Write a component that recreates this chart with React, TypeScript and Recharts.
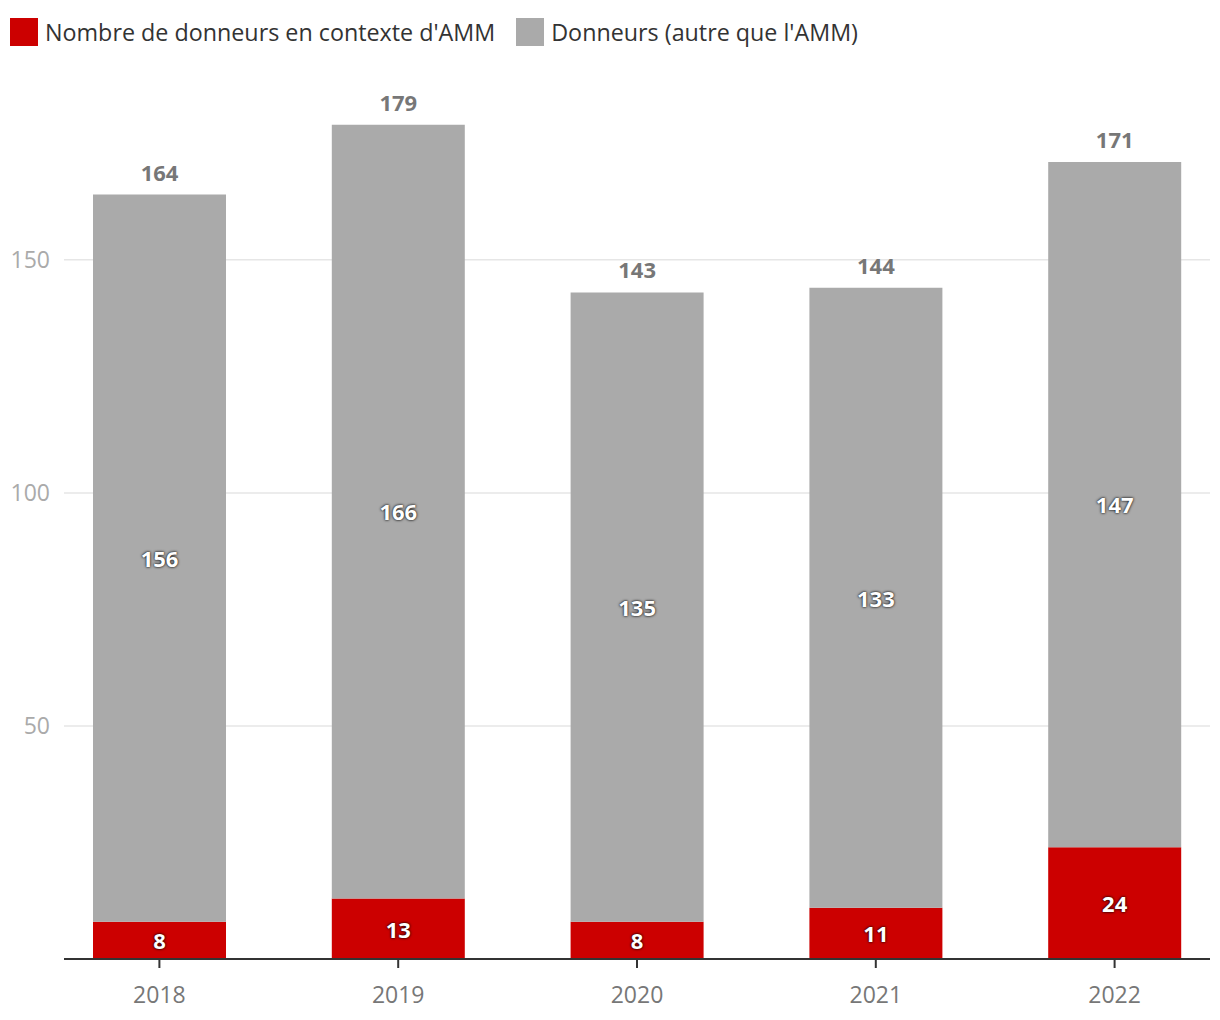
import { BarChart, Bar, XAxis, YAxis, CartesianGrid, LabelList } from "recharts";

const years = ["2018", "2019", "2020", "2021", "2022"];
const ammDonors = [8, 13, 8, 11, 24];
const otherDonors = [156, 166, 135, 133, 147];
const yTicks = [50, 100, 150];

const RED = "#cc0000";
const GREY = "#aaaaaa";
const FONT = "'Open Sans', sans-serif";

const data = years.map((year, i) => ({
  year,
  amm: ammDonors[i],
  other: otherDonors[i],
  total: ammDonors[i] + otherDonors[i],
}));

const legendItems = [
  { label: "Nombre de donneurs en contexte d'AMM", color: RED },
  { label: "Donneurs (autre que l'AMM)", color: GREY },
];

// white value inside a segment, with a soft dark halo
function renderInner(props: any) {
  const { x, y, width, height, value } = props;
  return (
    <text
      x={x + width / 2}
      y={y + height / 2 + 3}
      textAnchor="middle"
      dominantBaseline="middle"
      fill="#ffffff"
      fontSize={22}
      fontWeight={700}
      fontFamily={FONT}
      style={{ textShadow: "0 0 3px rgba(0,0,0,0.85), 0 0 2px rgba(0,0,0,0.6)" }}
    >
      {value}
    </text>
  );
}

function renderTotal(props: any) {
  const { x, y, width, index } = props;
  return (
    <text
      x={x + width / 2}
      y={y - 14}
      textAnchor="middle"
      fill="#777777"
      fontSize={22}
      fontWeight={700}
      fontFamily={FONT}
    >
      {data[index].total}
    </text>
  );
}

export default function App() {
  return (
    <div
      style={{
        position: "absolute",
        left: 0,
        top: 0,
        width: 1220,
        height: 1020,
        background: "#fff",
        fontFamily: FONT,
      }}
    >
      <div
        style={{
          position: "absolute",
          left: 10,
          top: 16,
          display: "flex",
          alignItems: "center",
          fontSize: 23.3,
          color: "#333",
        }}
      >
        {legendItems.map((it) => (
          <div
            key={it.label}
            style={{ display: "flex", alignItems: "center", marginRight: 21 }}
          >
            <span
              style={{
                display: "inline-block",
                width: 28,
                height: 28,
                background: it.color,
                marginRight: 7,
              }}
            />
            <span>{it.label}</span>
          </div>
        ))}
      </div>

      <BarChart
        width={1220}
        height={1020}
        data={data}
        margin={{ top: 120, right: 10, bottom: 0, left: 0 }}
      >
        <CartesianGrid
          vertical={false}
          stroke="#e6e6e6"
          strokeWidth={1.5}
          horizontalValues={yTicks}
        />
        <YAxis
          width={64}
          domain={[0, 180]}
          ticks={yTicks}
          axisLine={false}
          tickLine={false}
          tickSize={0}
          tickMargin={14}
          tick={{ fill: "#aaaaaa", fontSize: 23, fontFamily: FONT }}
        />
        <XAxis
          dataKey="year"
          height={61}
          padding={{ left: -24, right: -24 }}
          axisLine={{ stroke: "#333", strokeWidth: 2 }}
          tickLine={{ stroke: "#333", strokeWidth: 2 }}
          tickSize={9}
          tickMargin={19}
          tick={{ fill: "#777777", fontSize: 23, fontFamily: FONT }}
        />
        <Bar
          dataKey="amm"
          stackId="a"
          fill={RED}
          barSize={133}
          isAnimationActive={false}
        >
          <LabelList dataKey="amm" content={renderInner} />
        </Bar>
        <Bar
          dataKey="other"
          stackId="a"
          fill={GREY}
          barSize={133}
          isAnimationActive={false}
        >
          <LabelList dataKey="other" content={renderInner} />
          <LabelList dataKey="total" content={renderTotal} />
        </Bar>
      </BarChart>
    </div>
  );
}
